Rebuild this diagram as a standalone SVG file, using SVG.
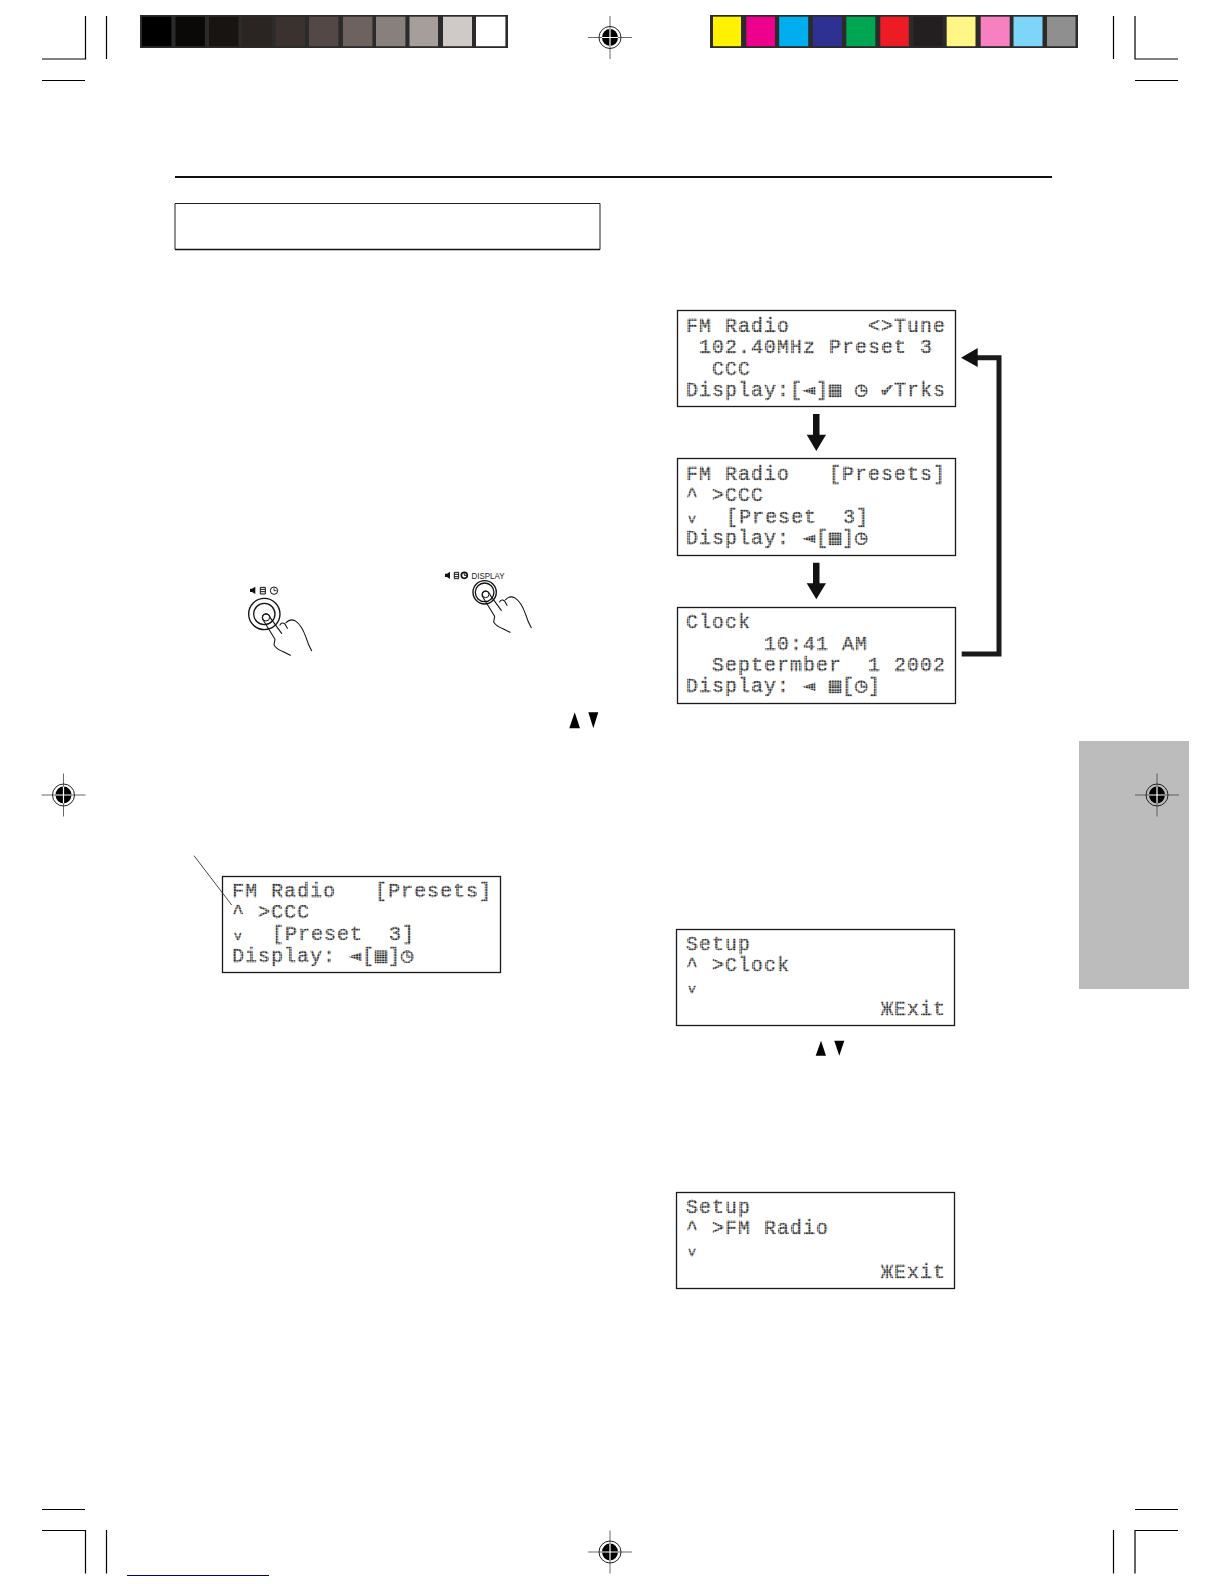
<svg xmlns="http://www.w3.org/2000/svg" width="1224" height="1584" viewBox="0 0 1224 1584">
<style>
.bg{fill:#fff}
.mark{fill:none;stroke:#000;stroke-width:1.2}
.box{fill:#fff;stroke:#1a1a1a;stroke-width:1.3}
.lcd{font-family:"Liberation Mono","DejaVu Sans Mono",monospace;font-size:20px;letter-spacing:1px;fill:url(#dots);stroke:url(#dots);stroke-width:.5;white-space:pre}
.ic{font-family:"DejaVu Sans Mono","DejaVu Sans",monospace;font-size:20px}
.sm{font-size:13px}
.arrow{fill:#111}
.loop{fill:none;stroke:#1a1a1a;stroke-width:5}
.hand{fill:none;stroke:#111;stroke-width:3.2;stroke-linecap:round;stroke-linejoin:round}
.ring{fill:none;stroke:#111;stroke-width:4}
.lbl{font-family:"Liberation Sans",Arial,sans-serif;fill:#222}
</style>
<defs>
<pattern id="dots" width="2.6" height="2.6" patternUnits="userSpaceOnUse"><rect width="2.1" height="2.1" fill="#333"/></pattern>
<g id="reg">
<path d="M-22 0H22M0 -21.500V21.500" stroke="#444" stroke-width=".8"/>
<circle r="11" fill="none" stroke="#222" stroke-width="1"/>
<ellipse rx="8" ry="8.500" fill="#000"/>
<path d="M-8 0H8M0 -8.500V8.500" stroke="#fff" stroke-width="1.200"/>
</g>
<g id="presses">
<path class="hand" d="M248 208Q245 195 257 192Q268 192 272 205L305 250M248 208L285 268L282 285Q290 298 310 305L331 316M300 225Q305 215 315 222L322 235M318 218Q330 205 345 212Q365 225 378 262Q385 285 395 302"/>
</g>
</defs>
<rect class="bg" width="1224" height="1584"/>

<g id="print-marks">
<path class="mark" d="M85.500 16V59H42M106.500 16V59M42 80.500H85M1113.500 16V59M1135 16V59H1178M1135 80.500H1178M42 1509.500H85M42 1530.500H85.500V1573.500M106.500 1530V1573.500M1135 1509.500H1178M1178 1530.500H1135V1573.500M1113.500 1530V1573.500"/>
<path d="M127 1575.500H269" stroke="#000080" stroke-width="1.200"/>
<use href="#reg" x="610" y="37.500"/>
<use href="#reg" x="610" y="1552"/>
<use href="#reg" x="63.500" y="795"/>
</g>

<g id="grey-bar">
<rect x="140" y="15" width="368" height="33" fill="#2b2b2b"/>
<rect x="142" y="16.700" width="29.400" height="29.500" fill="#000"/>
<rect x="175.500" y="16.700" width="29.400" height="29.500" fill="#0a0908"/>
<rect x="209" y="16.700" width="29.400" height="29.500" fill="#181412"/>
<rect x="242" y="16.700" width="29.400" height="29.500" fill="#2a2522"/>
<rect x="275.500" y="16.700" width="29.400" height="29.500" fill="#3b3230"/>
<rect x="309" y="16.700" width="29.400" height="29.500" fill="#534845"/>
<rect x="343" y="16.700" width="29.400" height="29.500" fill="#6d625e"/>
<rect x="376" y="16.700" width="29.400" height="29.500" fill="#88807c"/>
<rect x="409.500" y="16.700" width="28.500" height="29.500" fill="#a69e9a"/>
<rect x="443" y="16.700" width="29" height="29.500" fill="#cfcac7"/>
<rect x="476" y="16.700" width="29.400" height="29.500" fill="#fff"/>
</g>
<g id="colour-bar">
<rect x="710" y="15" width="368" height="33" fill="#2b2b2b"/>
<rect x="713" y="16.700" width="28" height="29.500" fill="#fff200"/>
<rect x="746.300" y="16.700" width="28.700" height="29.500" fill="#ec008c"/>
<rect x="779.200" y="16.700" width="29" height="29.500" fill="#00aeef"/>
<rect x="812.800" y="16.700" width="29" height="29.500" fill="#2e3192"/>
<rect x="846.300" y="16.700" width="29" height="29.500" fill="#00a651"/>
<rect x="880.300" y="16.700" width="28.500" height="29.500" fill="#ed1c24"/>
<rect x="913.500" y="16.700" width="29" height="29.500" fill="#231f20"/>
<rect x="946.700" y="16.700" width="28.800" height="29.500" fill="#fff685"/>
<rect x="980.700" y="16.700" width="29" height="29.500" fill="#f680c0"/>
<rect x="1013.500" y="16.700" width="29" height="29.500" fill="#7dd5f8"/>
<rect x="1047" y="16.700" width="28.500" height="29.500" fill="#8f8f8f"/>
</g>

<g id="header">
<path d="M175 177H1052" stroke="#111" stroke-width="2"/>
<path d="M175 203.500H600V249.500H175Z" fill="#fff" stroke="#222" stroke-width="1"/>
<path d="M175 249.500H600" stroke="#111" stroke-width="1.600"/>
</g>

<g id="side-tab">
<rect x="1079" y="741" width="110" height="248" fill="#bcbcbc"/>
<use href="#reg" x="1157" y="795"/>
</g>

<g id="press-left">
<g transform="translate(180 550) scale(.3333)">
<circle class="ring" cx="253" cy="192" r="47"/>
<circle class="ring" cx="253" cy="192" r="32"/>
<circle cx="258" cy="202" r="11" fill="none" stroke="#111" stroke-width="3"/>
<use href="#presses"/>
<path d="M210 116H216L226 110V132L216 126H210Z" fill="#111"/>
<path d="M241 112H256V132H241ZM241 118H256M241 125H256" fill="none" stroke="#111" stroke-width="3"/>
<circle cx="282" cy="122" r="11" fill="none" stroke="#111" stroke-width="3"/>
<path d="M282 115V122H290" fill="none" stroke="#111" stroke-width="2.500"/>
</g>
</g>
<g id="press-right">
<g transform="translate(180 550) scale(.3333)">
<circle class="ring" cx="914" cy="127" r="35"/>
<circle class="ring" cx="914" cy="127" r="28"/>
<circle cx="917" cy="133" r="10" fill="none" stroke="#111" stroke-width="3"/>
<use href="#presses" x="659" y="-69"/>
<path d="M795 71H801L810 65V87L801 81H795Z" fill="#111"/>
<path d="M823 67H836V86H823ZM823 73H836M823 80H836" fill="none" stroke="#111" stroke-width="3"/>
<circle cx="853" cy="76" r="9" fill="none" stroke="#111" stroke-width="5"/>
<path d="M853 70V76H860" fill="none" stroke="#111" stroke-width="3"/>
</g>
<text class="lbl" x="471.500" y="579" font-size="9.600" textLength="33" lengthAdjust="spacingAndGlyphs">DISPLAY</text>
</g>

<g id="step-arrows" fill="#000">
<path d="M569.300 728.300L574.700 712.300L580 728.300Z"/>
<path d="M588.300 712.300H598.300L593.300 728.300Z"/>
<path d="M815.700 1055.700L821 1040.700L826 1055.700Z"/>
<path d="M834.300 1040.700H844.300L839.300 1055.700Z"/>
</g>

<g id="lcd-fm-tune">
<rect class="box" x="677.500" y="310.500" width="278" height="96"/>
<text class="lcd" x="686" y="331.700">FM Radio      &lt;&gt;Tune</text>
<text class="lcd" x="699" y="353.300">102.40MHz Preset 3</text>
<text class="lcd" x="712" y="375">CCC</text>
<text class="lcd" x="686" y="396">Display:[<tspan class="ic" x="803">◄</tspan><tspan x="816">]</tspan><tspan class="ic" x="829">▤</tspan><tspan class="ic" x="855">◷</tspan><tspan class="ic" x="881">✔</tspan><tspan x="894">Trks</tspan></text>
</g>
<g id="lcd-fm-presets">
<rect class="box" x="677.500" y="458.500" width="278" height="97"/>
<text class="lcd" x="686" y="480">FM Radio   [Presets]</text>
<text class="lcd" x="686" y="501">^ &gt;CCC</text>
<text class="lcd sm" x="688" y="523">v</text>
<text class="lcd" x="726" y="523">[Preset  3]</text>
<text class="lcd" x="686" y="544.300">Display:<tspan class="ic" x="803">◄</tspan><tspan x="816">[</tspan><tspan class="ic" x="829">▤</tspan><tspan x="842">]</tspan><tspan class="ic" x="855">◷</tspan></text>
</g>
<g id="lcd-clock">
<rect class="box" x="677.500" y="607.500" width="278" height="96"/>
<text class="lcd" x="686" y="628">Clock</text>
<text class="lcd" x="764" y="650">10:41 AM</text>
<text class="lcd" x="712" y="671">Septermber  1 2002</text>
<text class="lcd" x="686" y="692.300">Display:<tspan class="ic" x="803">◄</tspan><tspan class="ic" x="829">▤</tspan><tspan x="842">[</tspan><tspan class="ic" x="855">◷</tspan><tspan x="868">]</tspan></text>
</g>
<g id="lcd-presets-left">
<rect class="box" x="222.500" y="876.500" width="278" height="96"/>
<text class="lcd" x="232" y="897.300">FM Radio   [Presets]</text>
<text class="lcd" x="232" y="918.300">^ &gt;CCC</text>
<text class="lcd sm" x="234" y="940">v</text>
<text class="lcd" x="272" y="940">[Preset  3]</text>
<text class="lcd" x="232" y="961.700">Display:<tspan class="ic" x="349">◄</tspan><tspan x="362">[</tspan><tspan class="ic" x="375">▤</tspan><tspan x="388">]</tspan><tspan class="ic" x="401">◷</tspan></text>
</g>
<g id="lcd-setup-clock">
<rect class="box" x="676.500" y="929.500" width="278" height="96"/>
<text class="lcd" x="686" y="950">Setup</text>
<text class="lcd" x="686" y="971">^ &gt;Clock</text>
<text class="lcd sm" x="688" y="993">v</text>
<text class="lcd" x="881" y="1015">Ж<tspan x="894">Exit</tspan></text>
</g>
<g id="lcd-setup-fm">
<rect class="box" x="676.500" y="1192.500" width="278" height="96"/>
<text class="lcd" x="686" y="1213">Setup</text>
<text class="lcd" x="686" y="1234">^ &gt;FM Radio</text>
<text class="lcd sm" x="688" y="1256">v</text>
<text class="lcd" x="881" y="1278">Ж<tspan x="894">Exit</tspan></text>
</g>

<g id="connectors">
<path class="arrow" d="M813 414H819.500V434.700H826L816.300 451L806.700 434.700H813Z"/>
<path class="arrow" d="M813 562.700H819.500V583.300H826L816.300 599.300L806.700 583.300H813Z"/>
<path class="loop" d="M961.700 654H999V357.700H975"/>
<path class="arrow" d="M961 357.700L977.700 348V367Z"/>
<path d="M194 855.700L231.700 905" fill="none" stroke="#333" stroke-width=".9"/>
</g>
</svg>
